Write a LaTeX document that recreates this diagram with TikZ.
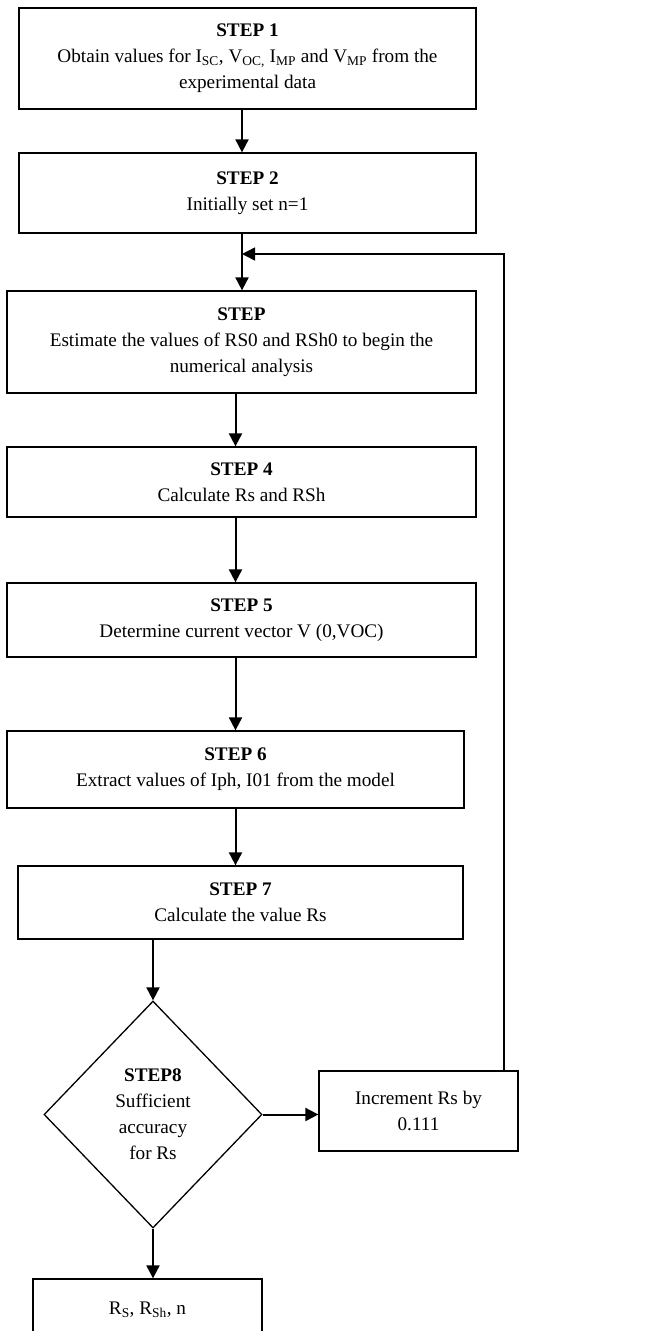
\documentclass[tikz,border=0pt]{standalone}
\usepackage{fontspec}
\setmainfont{Liberation Serif}
\usetikzlibrary{shapes.geometric,arrows.meta}
\tikzset{
    stepbox/.style = {draw, line width=1.3pt, align=center, inner sep=0pt},
    decbox/.style = {draw, diamond, line width=1.3pt, align=center, inner sep=0pt},
    flow/.style = {line width=2pt, -{Triangle[length=13pt,width=13pt]}}
}

\begin{document}
\begin{tikzpicture}[x=1pt,y=1pt,font=\fontsize{19.2}{26}\selectfont]%[every node/.append style={draw}]
    \useasboundingbox (0,0) rectangle (652,-1331);

    \node[stepbox, minimum width=457pt, minimum height=101pt] (S1) at (247.5,-58.5)
        {\textbf{STEP 1}\\Obtain values for I\textsubscript{SC}, V\textsubscript{OC,} I\textsubscript{MP} and V\textsubscript{MP} from the\\experimental data};
    \node[stepbox, minimum width=457pt, minimum height=80pt] (S2) at (247.5,-193)
        {\textbf{STEP 2}\\Initially set n=1};
    \node[stepbox, minimum width=469pt, minimum height=102pt] (S3) at (241.5,-342)
        {\textbf{STEP}\\Estimate the values of RS0 and RSh0 to begin the\\numerical analysis};
    \node[stepbox, minimum width=469pt, minimum height=70pt] (S4) at (241.5,-482)
        {\textbf{STEP 4}\\Calculate Rs and RSh};
    \node[stepbox, minimum width=469pt, minimum height=74pt] (S5) at (241.5,-620)
        {\textbf{STEP 5}\\Determine current vector V (0,VOC)};
    \node[stepbox, minimum width=457pt, minimum height=77pt] (S6) at (235.5,-769.5)
        {\textbf{STEP 6}\\Extract values of Iph, I01 from the model};
    \node[stepbox, minimum width=445pt, minimum height=73pt] (S7) at (240.5,-902.5)
        {\textbf{STEP 7}\\Calculate the value Rs};

    \node[decbox, minimum width=218pt, minimum height=227pt] (S8) at (153,-1114.5)
        {\textbf{STEP8}\\Sufficient\\accuracy\\for Rs};
    \node[stepbox, minimum width=199pt, minimum height=80pt] (Inc) at (418.5,-1111)
        {Increment Rs by\\0.111};
    \node[stepbox, minimum width=229pt, minimum height=62pt] (Res) at (147.5,-1310)
        {R\textsubscript{S}, R\textsubscript{Sh}, n};

    \coordinate(Join) at (242,-254);
    \coordinate(Incn) at (504,-1071);

    \draw [flow] ([xshift=-5.5pt]S1.south) -- ([xshift=-5.5pt]S2.north);
    \draw [flow] (S2.south -| Join) -- (S3.north -| Join);
    \draw [flow] (S3.south -| S6.north) -- (S4.north -| S6.north);
    \draw [flow] (S4.south -| S6.north) -- (S5.north -| S6.north);
    \draw [flow] (S5.south -| S6.north) -- (S6.north);
    \draw [flow] (S6.south) -- (S7.north -| S6.south);
    \draw [flow] (S7.south -| S8.north) -- (S8.north);
    \draw [flow] (S8.east) -- (S8.east -| Inc.west);
    \draw [flow] (S8.south) -- (S8.south |- Res.north);
    \draw [line width=1.5pt, -{Triangle[length=13pt,width=13pt]}] (Incn) |- (Join);

\end{tikzpicture}
\end{document}
